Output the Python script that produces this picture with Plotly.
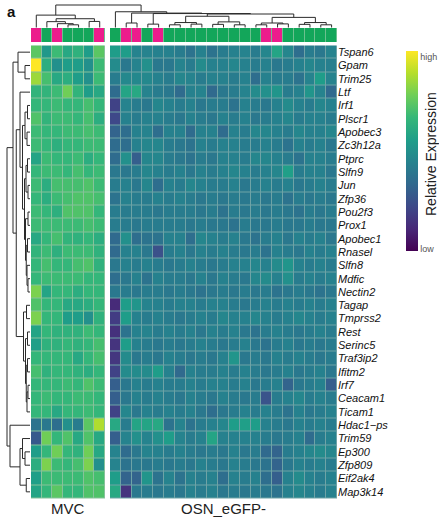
import plotly.graph_objects as go

W, H = 439, 518

genes = ["Tspan6", "Gpam", "Trim25", "Ltf", "Irf1", "Plscr1", "Apobec3", "Zc3h12a",
         "Ptprc", "Slfn9", "Jun", "Zfp36", "Pou2f3", "Prox1", "Apobec1", "Rnasel",
         "Slfn8", "Mdfic", "Nectin2", "Tagap", "Tmprss2", "Rest", "Serinc5", "Traf3ip2",
         "Ifitm2", "Irf7", "Ceacam1", "Ticam1", "Hdac1\u2212ps", "Trim59", "Ep300",
         "Zfp809", "Eif2ak4", "Map3k14"]

group_labels = ["MVC", "OSN_eGFP-"]
# sample annotation: 1 = pink, 0 = green
mvc_types = [1, 0, 1, 0, 0, 0, 1]
osn_types = [0, 1, 1, 0, 1, 0, 0, 0, 0, 0, 0, 0, 0, 0, 1, 1, 0, 0, 0, 0, 0]

mvc_values = [
    [0.74, 0.53, 0.68, 0.60, 0.64, 0.55, 0.74],
    [1.00, 0.62, 0.50, 0.55, 0.55, 0.50, 0.68],
    [0.85, 0.70, 0.60, 0.62, 0.55, 0.50, 0.68],
    [0.65, 0.65, 0.68, 0.78, 0.65, 0.55, 0.60],
    [0.66, 0.66, 0.68, 0.66, 0.66, 0.70, 0.66],
    [0.72, 0.65, 0.68, 0.68, 0.66, 0.70, 0.62],
    [0.68, 0.66, 0.66, 0.68, 0.68, 0.70, 0.68],
    [0.68, 0.66, 0.63, 0.66, 0.66, 0.68, 0.68],
    [0.58, 0.68, 0.66, 0.66, 0.68, 0.62, 0.66],
    [0.66, 0.68, 0.68, 0.66, 0.70, 0.66, 0.68],
    [0.68, 0.62, 0.70, 0.70, 0.70, 0.72, 0.68],
    [0.66, 0.62, 0.68, 0.70, 0.72, 0.72, 0.70],
    [0.68, 0.66, 0.63, 0.72, 0.72, 0.72, 0.66],
    [0.68, 0.68, 0.68, 0.68, 0.68, 0.70, 0.68],
    [0.60, 0.66, 0.70, 0.65, 0.64, 0.66, 0.62],
    [0.65, 0.68, 0.63, 0.68, 0.68, 0.68, 0.64],
    [0.66, 0.70, 0.66, 0.66, 0.70, 0.72, 0.64],
    [0.66, 0.68, 0.68, 0.68, 0.68, 0.66, 0.66],
    [0.80, 0.58, 0.66, 0.66, 0.62, 0.66, 0.66],
    [0.72, 0.66, 0.66, 0.60, 0.60, 0.62, 0.66],
    [0.80, 0.66, 0.66, 0.55, 0.55, 0.50, 0.64],
    [0.58, 0.66, 0.64, 0.64, 0.64, 0.68, 0.66],
    [0.56, 0.64, 0.64, 0.66, 0.64, 0.66, 0.70],
    [0.66, 0.66, 0.66, 0.66, 0.60, 0.66, 0.70],
    [0.70, 0.64, 0.66, 0.66, 0.64, 0.62, 0.66],
    [0.66, 0.66, 0.66, 0.68, 0.66, 0.72, 0.68],
    [0.66, 0.68, 0.66, 0.66, 0.68, 0.68, 0.66],
    [0.66, 0.66, 0.60, 0.66, 0.66, 0.68, 0.66],
    [0.38, 0.40, 0.36, 0.50, 0.42, 0.74, 0.88],
    [0.28, 0.78, 0.66, 0.72, 0.60, 0.72, 0.60],
    [0.55, 0.66, 0.78, 0.66, 0.64, 0.78, 0.60],
    [0.62, 0.80, 0.68, 0.66, 0.70, 0.80, 0.50],
    [0.56, 0.68, 0.68, 0.68, 0.68, 0.72, 0.70],
    [0.58, 0.66, 0.74, 0.66, 0.66, 0.72, 0.72],
]

osn_values = [
    [0.55, 0.55, 0.45, 0.45, 0.44, 0.44, 0.42, 0.38, 0.44, 0.38, 0.42, 0.44, 0.45, 0.42, 0.46, 0.58, 0.46, 0.36, 0.42, 0.40, 0.45],
    [0.48, 0.40, 0.45, 0.50, 0.40, 0.40, 0.45, 0.42, 0.48, 0.44, 0.44, 0.46, 0.44, 0.42, 0.44, 0.40, 0.42, 0.44, 0.46, 0.44, 0.43],
    [0.42, 0.47, 0.47, 0.47, 0.44, 0.42, 0.46, 0.45, 0.42, 0.44, 0.44, 0.42, 0.44, 0.36, 0.44, 0.42, 0.42, 0.38, 0.45, 0.55, 0.45],
    [0.35, 0.58, 0.60, 0.45, 0.42, 0.40, 0.35, 0.44, 0.45, 0.34, 0.40, 0.42, 0.45, 0.48, 0.50, 0.52, 0.42, 0.44, 0.52, 0.45, 0.34],
    [0.20, 0.45, 0.42, 0.40, 0.46, 0.44, 0.42, 0.44, 0.40, 0.42, 0.42, 0.38, 0.44, 0.42, 0.40, 0.44, 0.48, 0.44, 0.42, 0.46, 0.44],
    [0.22, 0.44, 0.42, 0.44, 0.44, 0.42, 0.40, 0.44, 0.42, 0.40, 0.44, 0.42, 0.44, 0.40, 0.42, 0.44, 0.46, 0.42, 0.44, 0.44, 0.42],
    [0.32, 0.36, 0.44, 0.45, 0.36, 0.44, 0.44, 0.35, 0.44, 0.44, 0.35, 0.44, 0.42, 0.46, 0.46, 0.44, 0.42, 0.46, 0.44, 0.44, 0.46],
    [0.35, 0.36, 0.44, 0.46, 0.46, 0.42, 0.40, 0.38, 0.44, 0.42, 0.44, 0.44, 0.42, 0.42, 0.44, 0.42, 0.38, 0.44, 0.42, 0.44, 0.40],
    [0.35, 0.50, 0.30, 0.46, 0.46, 0.42, 0.40, 0.38, 0.42, 0.40, 0.44, 0.44, 0.42, 0.46, 0.46, 0.44, 0.42, 0.38, 0.44, 0.44, 0.42],
    [0.40, 0.40, 0.42, 0.46, 0.44, 0.42, 0.44, 0.40, 0.44, 0.42, 0.44, 0.46, 0.44, 0.42, 0.44, 0.46, 0.56, 0.42, 0.44, 0.44, 0.40],
    [0.42, 0.44, 0.40, 0.46, 0.36, 0.44, 0.42, 0.46, 0.44, 0.42, 0.42, 0.44, 0.40, 0.42, 0.44, 0.42, 0.44, 0.40, 0.42, 0.44, 0.42],
    [0.38, 0.44, 0.42, 0.42, 0.44, 0.42, 0.44, 0.42, 0.40, 0.42, 0.40, 0.42, 0.40, 0.42, 0.40, 0.42, 0.38, 0.42, 0.40, 0.42, 0.40],
    [0.42, 0.42, 0.42, 0.42, 0.40, 0.42, 0.42, 0.42, 0.40, 0.42, 0.38, 0.42, 0.40, 0.42, 0.40, 0.42, 0.40, 0.38, 0.42, 0.40, 0.42],
    [0.42, 0.42, 0.40, 0.42, 0.42, 0.42, 0.42, 0.40, 0.42, 0.40, 0.40, 0.38, 0.42, 0.40, 0.40, 0.42, 0.40, 0.40, 0.42, 0.40, 0.40],
    [0.34, 0.50, 0.36, 0.38, 0.38, 0.44, 0.44, 0.36, 0.46, 0.44, 0.42, 0.44, 0.40, 0.38, 0.42, 0.44, 0.40, 0.44, 0.42, 0.44, 0.40],
    [0.34, 0.44, 0.44, 0.40, 0.25, 0.42, 0.44, 0.40, 0.44, 0.42, 0.44, 0.42, 0.40, 0.42, 0.38, 0.44, 0.42, 0.40, 0.44, 0.42, 0.44],
    [0.40, 0.44, 0.42, 0.44, 0.42, 0.40, 0.42, 0.44, 0.42, 0.40, 0.42, 0.44, 0.44, 0.46, 0.44, 0.48, 0.52, 0.44, 0.42, 0.44, 0.42],
    [0.36, 0.40, 0.44, 0.38, 0.44, 0.42, 0.42, 0.40, 0.44, 0.40, 0.44, 0.42, 0.40, 0.46, 0.48, 0.44, 0.50, 0.42, 0.44, 0.42, 0.44],
    [0.40, 0.42, 0.40, 0.42, 0.42, 0.40, 0.42, 0.40, 0.38, 0.40, 0.42, 0.40, 0.42, 0.40, 0.42, 0.38, 0.40, 0.42, 0.40, 0.38, 0.40],
    [0.12, 0.55, 0.52, 0.45, 0.44, 0.42, 0.44, 0.44, 0.42, 0.44, 0.44, 0.42, 0.40, 0.42, 0.44, 0.42, 0.44, 0.42, 0.44, 0.42, 0.44],
    [0.18, 0.55, 0.44, 0.42, 0.44, 0.42, 0.40, 0.42, 0.44, 0.42, 0.46, 0.44, 0.44, 0.46, 0.44, 0.42, 0.44, 0.46, 0.44, 0.42, 0.44],
    [0.14, 0.38, 0.44, 0.45, 0.42, 0.44, 0.42, 0.44, 0.40, 0.44, 0.42, 0.44, 0.40, 0.38, 0.42, 0.44, 0.42, 0.40, 0.42, 0.44, 0.42],
    [0.15, 0.55, 0.44, 0.42, 0.40, 0.42, 0.40, 0.42, 0.44, 0.42, 0.40, 0.42, 0.44, 0.40, 0.38, 0.42, 0.44, 0.40, 0.42, 0.40, 0.42],
    [0.16, 0.48, 0.40, 0.42, 0.40, 0.44, 0.42, 0.40, 0.42, 0.40, 0.44, 0.52, 0.40, 0.42, 0.40, 0.44, 0.42, 0.44, 0.42, 0.40, 0.42],
    [0.20, 0.48, 0.48, 0.48, 0.55, 0.44, 0.34, 0.44, 0.42, 0.42, 0.44, 0.42, 0.44, 0.42, 0.40, 0.42, 0.44, 0.40, 0.42, 0.44, 0.40],
    [0.30, 0.40, 0.44, 0.42, 0.44, 0.42, 0.42, 0.44, 0.42, 0.44, 0.44, 0.42, 0.44, 0.40, 0.42, 0.44, 0.32, 0.40, 0.42, 0.44, 0.30],
    [0.30, 0.40, 0.44, 0.42, 0.44, 0.42, 0.40, 0.44, 0.42, 0.40, 0.44, 0.42, 0.40, 0.42, 0.26, 0.42, 0.44, 0.46, 0.42, 0.44, 0.42],
    [0.20, 0.46, 0.40, 0.44, 0.42, 0.44, 0.42, 0.44, 0.40, 0.36, 0.40, 0.42, 0.44, 0.42, 0.44, 0.42, 0.38, 0.44, 0.40, 0.42, 0.44],
    [0.60, 0.42, 0.58, 0.58, 0.60, 0.38, 0.45, 0.38, 0.42, 0.44, 0.46, 0.55, 0.56, 0.55, 0.44, 0.42, 0.40, 0.44, 0.42, 0.44, 0.42],
    [0.30, 0.45, 0.50, 0.45, 0.50, 0.55, 0.45, 0.42, 0.44, 0.58, 0.44, 0.44, 0.44, 0.44, 0.42, 0.40, 0.42, 0.44, 0.35, 0.42, 0.44],
    [0.45, 0.35, 0.40, 0.45, 0.44, 0.42, 0.44, 0.42, 0.40, 0.42, 0.40, 0.44, 0.40, 0.42, 0.34, 0.32, 0.42, 0.44, 0.46, 0.48, 0.46],
    [0.45, 0.38, 0.40, 0.40, 0.42, 0.40, 0.42, 0.40, 0.44, 0.42, 0.40, 0.44, 0.42, 0.40, 0.38, 0.32, 0.40, 0.44, 0.42, 0.44, 0.42],
    [0.55, 0.32, 0.32, 0.52, 0.38, 0.45, 0.38, 0.44, 0.42, 0.44, 0.36, 0.44, 0.42, 0.44, 0.36, 0.30, 0.44, 0.48, 0.44, 0.42, 0.44],
    [0.60, 0.15, 0.40, 0.42, 0.40, 0.42, 0.40, 0.44, 0.42, 0.44, 0.40, 0.42, 0.40, 0.42, 0.40, 0.38, 0.44, 0.46, 0.44, 0.42, 0.44],
]

# dendrograms: (merge height, left, right); leaves are indices
# columns: 0-6 = MVC samples, 7-27 = OSN samples
col_tree = (1.0,
            (0.55, 0, (0.39, (0.26, 1, (0.17, 2, (0.12, 3, 4))), (0.27, 5, 6))),
            (0.70, 7,
             (0.64, (0.20, 8, 9),
              (0.62, (0.15, 10, 11),
               (0.60,
                (0.50, (0.22, (0.12, 12, 13), (0.15, 14, 15)), (0.25, (0.14, 16, 17), (0.12, 18, 19))),
                (0.45, (0.20, (0.12, 20, 21), (0.16, 22, 23)), (0.22, (0.14, 24, 25), (0.12, 26, 27))))))))

row_tree = (0.92,
            (0.68,
             (0.48, 0, (0.20, 1, 2)),
             (0.55,
              (0.40, 3,
               (0.30,
                (0.20, (0.10, 4, 5), (0.12, 6, 7)),
                (0.22,
                 (0.16, (0.10, 8, 9), (0.08, 10, 11)),
                 (0.18, (0.08, 12, 13), (0.15, (0.10, 14, 15), (0.12, 16, (0.08, 17, 18))))))),
              (0.26, (0.14, 19, 20),
               (0.18, (0.10, 21, 22), (0.15, (0.10, 23, 24), (0.12, (0.08, 25, 26), 27)))))),
            (0.80, 28, (0.40, (0.30, 29, (0.20, 30, 31)), (0.15, 32, 33))))

# ---------------- layout geometry (pixels) ----------------
HM_TOP, HM_BOT = 45.5, 498.5
MVC_X0, MVC_X1 = 31, 105
OSN_X0, OSN_X1 = 110, 337
ANN_TOP, ANN_BOT = 28, 42
FONT = "Liberation Sans, Arial, sans-serif"
PINK, GREEN = "#ec1c8c", "#13a65a"


def fx(x):
    return x / W


def fy(y):
    return 1 - y / H


n_rows = len(genes)
n_mvc = len(mvc_types)
n_osn = len(osn_types)
row_h = (HM_BOT - HM_TOP) / n_rows


def leaf_x(i):
    if i < n_mvc:
        return MVC_X0 + (i + 0.5) * (MVC_X1 - MVC_X0) / n_mvc
    j = i - n_mvc
    return OSN_X0 + (j + 0.5) * (OSN_X1 - OSN_X0) / n_osn


def leaf_y(i):
    return HM_TOP + (i + 0.5) * row_h


def walk(node, leafpos, segs):
    """returns (position, height) and collects elbow segments (pos, height)."""
    if isinstance(node, int):
        return leafpos(node), 0.0
    h, a, b = node
    pa, ha = walk(a, leafpos, segs)
    pb, hb = walk(b, leafpos, segs)
    segs.append([(pa, ha), (pa, h), (pb, h), (pb, hb)])
    return (pa + pb) / 2, h


col_segs, row_segs = [], []
walk(col_tree, leaf_x, col_segs)
walk(row_tree, leaf_y, row_segs)

COL_BASE, COL_SCALE = 27.5, 22.5
ROW_BASE, ROW_SCALE = 30.0, 25.0

dx, dy = [], []
for seg in col_segs:
    for p, h in seg:
        dx.append(p)
        dy.append(COL_BASE - h * COL_SCALE)
    dx.append(None)
    dy.append(None)
rx, ry = [], []
for seg in row_segs:
    for p, h in seg:
        rx.append(ROW_BASE - h * ROW_SCALE)
        ry.append(p)
    rx.append(None)
    ry.append(None)

fig = go.Figure()

fig.add_trace(go.Heatmap(z=mvc_values, x=list(range(n_mvc)), y=genes, colorscale="Viridis",
                         zmin=0, zmax=1, xgap=1, ygap=1, showscale=False,
                         xaxis="x", yaxis="y", hoverinfo="skip"))
fig.add_trace(go.Heatmap(z=osn_values, x=list(range(n_osn)), y=genes, colorscale="Viridis",
                         zmin=0, zmax=1, xgap=1, ygap=1, showscale=True,
                         xaxis="x2", yaxis="y2", hoverinfo="skip",
                         colorbar=dict(x=fx(406), xanchor="left", xref="paper",
                                       y=fy(51), yanchor="top", yref="paper",
                                       len=200, lenmode="pixels", thickness=12,
                                       thicknessmode="pixels", outlinewidth=0,
                                       xpad=0, ypad=0, tickvals=[0.01, 0.97],
                                       ticktext=["low", "high"], ticks="",
                                       tickfont=dict(size=9, color="#555", family=FONT))))

ann_scale = [[0, GREEN], [0.5, GREEN], [0.5, PINK], [1, PINK]]
fig.add_trace(go.Heatmap(z=[mvc_types], x=list(range(n_mvc)), y=[0], colorscale=ann_scale,
                         zmin=0, zmax=1, xgap=1, showscale=False, xaxis="x3", yaxis="y3",
                         hoverinfo="skip"))
fig.add_trace(go.Heatmap(z=[osn_types], x=list(range(n_osn)), y=[0], colorscale=ann_scale,
                         zmin=0, zmax=1, xgap=1, showscale=False, xaxis="x4", yaxis="y4",
                         hoverinfo="skip"))

fig.add_trace(go.Scatter(x=dx, y=dy, mode="lines", line=dict(color="#2b2b2b", width=1),
                         xaxis="x5", yaxis="y5", hoverinfo="skip", showlegend=False))
fig.add_trace(go.Scatter(x=rx, y=ry, mode="lines", line=dict(color="#2b2b2b", width=1),
                         xaxis="x5", yaxis="y5", hoverinfo="skip", showlegend=False))

hide = dict(showgrid=False, zeroline=False, showticklabels=False, ticks="", showline=False)

fig.update_layout(
    width=W, height=H, margin=dict(l=0, r=0, t=0, b=0),
    paper_bgcolor="white", plot_bgcolor="rgba(0,0,0,0)", showlegend=False,
    xaxis=dict(domain=[fx(MVC_X0), fx(MVC_X1)], range=[-0.5, n_mvc - 0.5], anchor="y", **hide),
    yaxis=dict(domain=[fy(HM_BOT), fy(HM_TOP)], autorange="reversed", anchor="x", **hide),
    xaxis2=dict(domain=[fx(OSN_X0), fx(OSN_X1)], range=[-0.5, n_osn - 0.5], anchor="y2", **hide),
    yaxis2=dict(domain=[fy(HM_BOT), fy(HM_TOP)], autorange="reversed", anchor="x2", side="right",
                showgrid=False, zeroline=False, ticks="", showline=False, showticklabels=True,
                tickfont=dict(size=11, color="#111", family=FONT, style="italic")),
    xaxis3=dict(domain=[fx(MVC_X0), fx(MVC_X1)], range=[-0.5, n_mvc - 0.5], anchor="y3", **hide),
    yaxis3=dict(domain=[fy(ANN_BOT), fy(ANN_TOP)], anchor="x3", **hide),
    xaxis4=dict(domain=[fx(OSN_X0), fx(OSN_X1)], range=[-0.5, n_osn - 0.5], anchor="y4", **hide),
    yaxis4=dict(domain=[fy(ANN_BOT), fy(ANN_TOP)], anchor="x4", **hide),
    xaxis5=dict(domain=[0, 1], range=[0, W], anchor="y5", visible=False, **hide),
    yaxis5=dict(domain=[0, 1], range=[H, 0], anchor="x5", visible=False, **hide),
)

# subtle grid colour showing through the cell gaps
for x0, x1, grid in [(MVC_X0, MVC_X1, "#86c29a"), (OSN_X0, OSN_X1, "#6ea3a6")]:
    fig.add_shape(type="rect", xref="paper", yref="paper", x0=fx(x0), x1=fx(x1),
                  y0=fy(HM_BOT), y1=fy(HM_TOP), fillcolor=grid, line=dict(width=0),
                  layer="below")
    fig.add_shape(type="rect", xref="paper", yref="paper", x0=fx(x0), x1=fx(x1),
                  y0=fy(ANN_BOT), y1=fy(ANN_TOP), fillcolor="#6cc08e", line=dict(width=0),
                  layer="below")

texts = [
    dict(text="<b>a</b>", x=fx(11), y=fy(12), size=15, color="#111"),
    dict(text=group_labels[0], x=fx((MVC_X0 + MVC_X1) / 2), y=fy(508), size=15, color="#222"),
    dict(text=group_labels[1], x=fx((OSN_X0 + OSN_X1) / 2), y=fy(508), size=15, color="#222"),
]
for t in texts:
    fig.add_annotation(text=t["text"], x=t["x"], y=t["y"], xref="paper", yref="paper",
                       showarrow=False, xanchor="center", yanchor="middle",
                       font=dict(size=t["size"], color=t["color"], family=FONT))
fig.add_annotation(text="Relative Expression", x=fx(431), y=fy(154), xref="paper", yref="paper",
                   showarrow=False, textangle=-90, xanchor="center", yanchor="middle",
                   font=dict(size=14, color="#222", family=FONT))

fig.write_html("out.html", config={"displayModeBar": False, "staticPlot": True},
               post_script="document.body.style.margin='0';document.body.style.overflow='hidden';")
